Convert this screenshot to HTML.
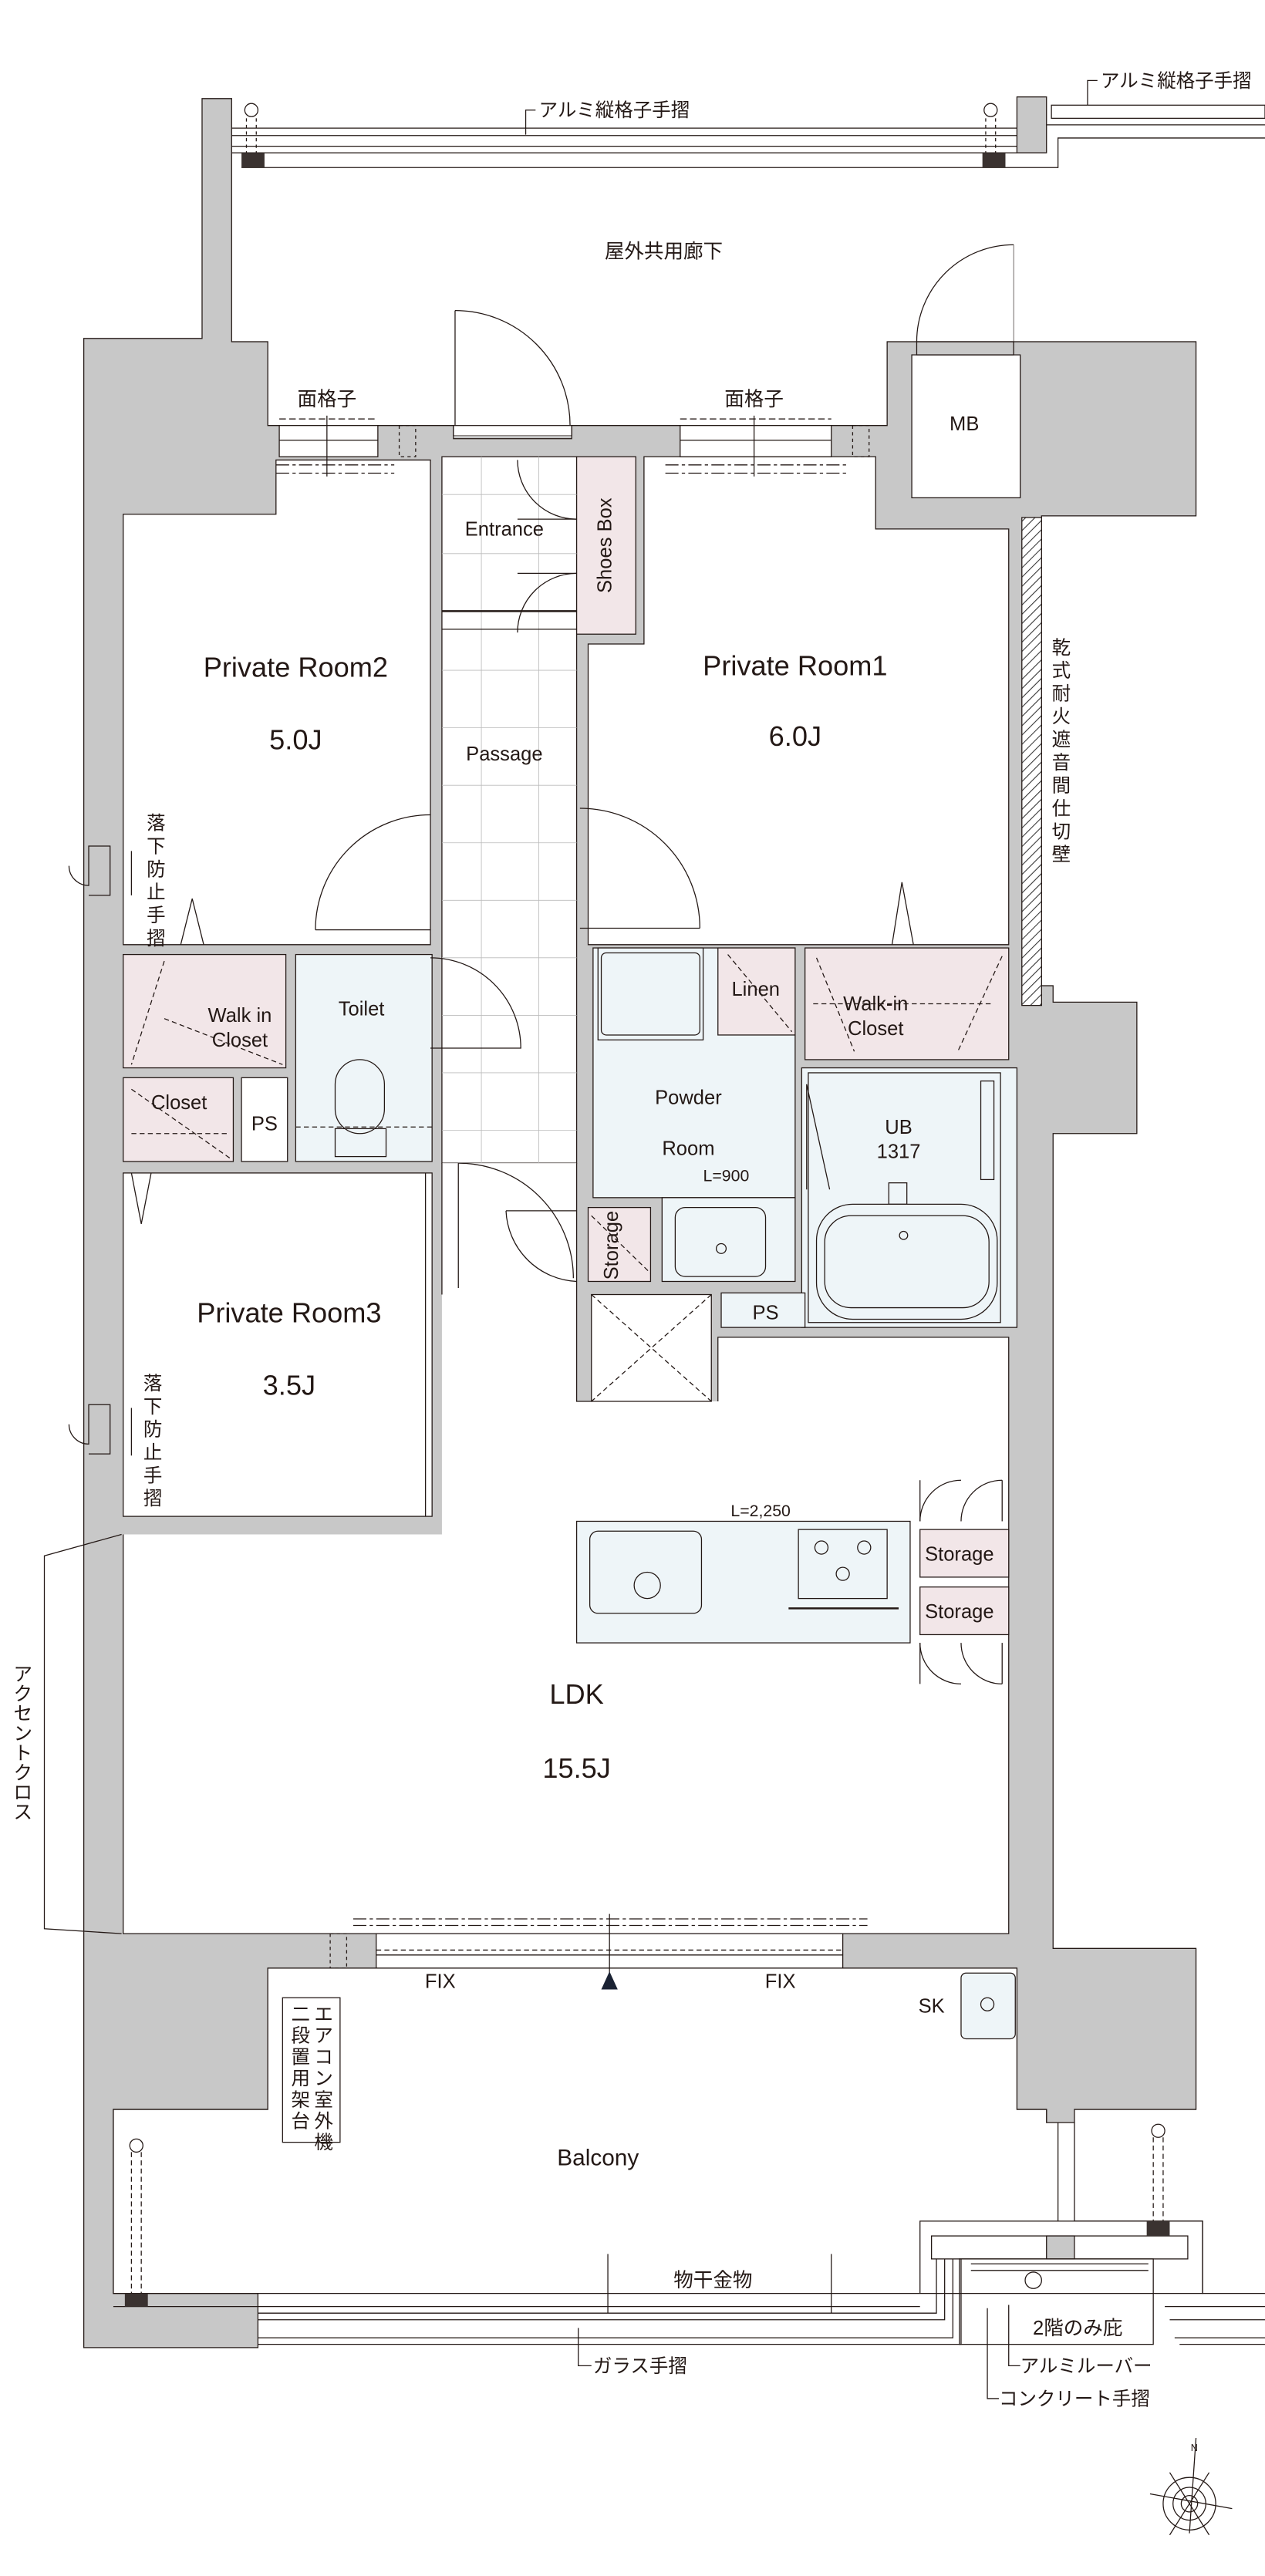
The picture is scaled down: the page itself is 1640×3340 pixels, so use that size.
<!DOCTYPE html>
<html><head><meta charset="utf-8"><style>
html,body{margin:0;padding:0;background:#fff}
svg{display:block}
text{font-family:"Liberation Sans","Noto Sans CJK JP",sans-serif;fill:#231815}
</style></head><body>
<svg width="1640" height="3340" viewBox="0 0 770 1568" preserveAspectRatio="none" xmlns="http://www.w3.org/2000/svg">
<defs>
<pattern id="h" width="4" height="4" patternUnits="userSpaceOnUse" patternTransform="rotate(45)"><rect width="4" height="4" fill="#fff"/><line x1="0" y1="0" x2="0" y2="4" stroke="#333" stroke-width="1"/></pattern>
</defs>
<g stroke="#231815" stroke-width="0.6" fill="none">
<line x1="141" y1="78" x2="619" y2="78"/><line x1="141" y1="82.5" x2="619" y2="82.5"/>
<line x1="141" y1="89" x2="619" y2="89"/><line x1="141" y1="93" x2="619" y2="93"/>
<polyline points="147,102 644,102 644,84 770,84"/>
<line x1="637" y1="76" x2="770" y2="76"/>
<rect x="640" y="64" width="130" height="8"/>
<circle cx="153" cy="67" r="4"/><circle cx="603" cy="67" r="4"/>
<line x1="150" y1="72" x2="150" y2="93" stroke-dasharray="2,2"/><line x1="156" y1="72" x2="156" y2="93" stroke-dasharray="2,2"/>
<line x1="600" y1="72" x2="600" y2="93" stroke-dasharray="2,2"/><line x1="606" y1="72" x2="606" y2="93" stroke-dasharray="2,2"/>
<polyline points="320,82 320,67 326,67"/><polyline points="662,64 662,49 668,49"/>
</g>
<rect x="147" y="93" width="14" height="9" fill="#3a3230"/><rect x="598" y="93" width="14" height="9" fill="#3a3230"/>
<rect x="619" y="59" width="18" height="34" fill="#c8c8c8" stroke="#231815" stroke-width="0.6"/>
<text x="328" y="71" font-size="11.5">アルミ縦格子手摺</text>
<text x="670" y="53" font-size="11.5">アルミ縦格子手摺</text>
<text x="404" y="157" font-size="12" text-anchor="middle">屋外共用廊下</text>

<g fill="#c8c8c8" stroke="#231815" stroke-width="0.6">
<polygon points="51,206 123,206 123,60 141,60 141,208 163,208 163,259 276,259 276,265 348,265 348,259 540,259 540,208 728,208 728,314 634,314 634,600 641,600 641,610 692,610 692,690 641,690 641,1186 728,1186 728,1284 654,1284 654,1292 637,1292 637,1284 619,1284 619,1198 163,1198 163,1284 69,1284 69,1396 157,1396 157,1429 51,1429"/>
</g>
<rect x="622" y="315" width="12" height="297" fill="url(#h)" stroke="#231815" stroke-width="0.6"/>

<g stroke="#231815" stroke-width="0.6">
<polygon fill="#fff" points="168,280 262,280 262,575 75,575 75,313 168,313"/>
<polygon fill="#fff" points="392,278 533,278 533,322 614,322 614,575 358,575 358,392 392,392"/>
<rect fill="#fff" x="269" y="278" width="82" height="430"/>
<rect fill="#fff" x="276" y="259" width="72" height="6" stroke="none"/>
<rect fill="#f2e6e8" x="351" y="278" width="36" height="108"/>
<rect fill="#f2e6e8" x="75" y="581" width="99" height="69"/>
<rect fill="#eef5f8" x="180" y="581" width="83" height="126"/>
<rect fill="#f2e6e8" x="75" y="656" width="67" height="51"/>
<rect fill="#fff" x="147" y="656" width="28" height="51"/>
<rect fill="#fff" x="75" y="714" width="188" height="209"/>
<polygon fill="#fff" points="269,708 351,708 351,853 437,853 437,814 614,814 614,1177 75,1177 75,934 269,934 269,788" stroke="none"/>
<polyline fill="none" points="351,708 351,853 360,853"/>
<polyline fill="none" points="75,934 75,1177 614,1177 614,814 437,814 437,853"/>
<polyline fill="none" points="269,708 269,788"/>
<rect fill="#eef5f8" x="361" y="577" width="123" height="152"/>
<rect fill="#eef5f8" x="364" y="577" width="64" height="56"/>
<rect fill="#f2e6e8" x="437" y="577" width="47" height="53"/>
<rect fill="#f2e6e8" x="490" y="577" width="124" height="68"/>
<rect fill="#eef5f8" x="488" y="650" width="131" height="158"/>
<rect fill="none" x="492" y="653" width="117" height="152"/>
<rect fill="#f2e6e8" x="358" y="735" width="38" height="45"/>
<rect fill="#eef5f8" x="403" y="729" width="81" height="51"/>
<rect fill="#eef5f8" x="439" y="787" width="51" height="21"/>
<rect fill="#fff" x="360" y="788" width="73" height="65"/>
<rect fill="#eef5f8" x="351" y="926" width="203" height="74"/>
<rect fill="#f2e6e8" x="560" y="931" width="54" height="29"/>
<rect fill="#f2e6e8" x="560" y="966" width="54" height="29"/>
<rect fill="#fff" x="555" y="216" width="66" height="87"/>
<rect fill="#fff" x="170" y="259" width="60" height="19"/>
<rect fill="#fff" x="414" y="259" width="92" height="19"/>
<rect fill="#fff" x="229" y="1177" width="284" height="21"/>
<polygon fill="#fff" points="163,1198 619,1198 619,1284 637,1284 637,1292 654,1292 654,1352 732,1352 732,1396 69,1396 69,1284 163,1284"/>
</g>
<g stroke="#bbb" stroke-width="0.4">
<line x1="293" y1="278" x2="293" y2="708"/><line x1="328" y1="278" x2="328" y2="708"/>
<line x1="269" y1="301" x2="351" y2="301"/><line x1="269" y1="337" x2="351" y2="337"/>
<line x1="269" y1="408" x2="351" y2="408"/><line x1="269" y1="443" x2="351" y2="443"/><line x1="269" y1="478" x2="351" y2="478"/>
<line x1="269" y1="513" x2="351" y2="513"/><line x1="269" y1="548" x2="351" y2="548"/><line x1="269" y1="583" x2="351" y2="583"/>
<line x1="269" y1="618" x2="351" y2="618"/><line x1="269" y1="653" x2="351" y2="653"/><line x1="269" y1="688" x2="351" y2="688"/>
</g>
<line x1="269" y1="372" x2="351" y2="372" stroke="#231815" stroke-width="1.2"/>
<line x1="269" y1="383" x2="351" y2="383" stroke="#231815" stroke-width="0.6"/>

<g stroke="#231815" stroke-width="0.6" fill="none">
<line x1="277" y1="189" x2="277" y2="259"/><path d="M277,189 A70,70 0 0 1 347,259"/>
<line x1="617" y1="149" x2="617" y2="208" stroke-width="0.3"/><path d="M617,149 A59,59 0 0 0 558,208"/>
<rect x="558" y="208" width="59" height="8"/>
<rect x="276" y="259" width="72" height="8"/>
<line x1="192" y1="566" x2="262" y2="566"/><path d="M192,566 A70,70 0 0 1 262,496"/>
<line x1="353" y1="565" x2="426" y2="565"/><path d="M426,565 A73,73 0 0 0 353,492"/>
<path d="M315,280 A36,36 0 0 0 351,316"/><line x1="315" y1="316" x2="351" y2="316"/>
<path d="M315,385 A36,36 0 0 1 351,349"/><line x1="315" y1="349" x2="351" y2="349"/>
<line x1="279" y1="708" x2="279" y2="784"/><path d="M279,708 A70,70 0 0 1 349,778" />
<path d="M308,737 A45,45 0 0 0 351,780"/><line x1="308" y1="737" x2="351" y2="737"/>
<path d="M262,583 A55,55 0 0 1 317,638 L262,638"/>
<line x1="170" y1="255" x2="230" y2="255" stroke-dasharray="4,2"/><line x1="414" y1="255" x2="506" y2="255" stroke-dasharray="4,2"/>
<line x1="170" y1="268" x2="230" y2="268"/><line x1="414" y1="268" x2="506" y2="268"/>
<line x1="168" y1="283" x2="240" y2="283" stroke-dasharray="8,2,2,2"/><line x1="168" y1="288" x2="240" y2="288" stroke-dasharray="8,2,2,2"/>
<line x1="405" y1="283" x2="515" y2="283" stroke-dasharray="8,2,2,2"/><line x1="405" y1="288" x2="515" y2="288" stroke-dasharray="8,2,2,2"/>
<line x1="199" y1="253" x2="199" y2="290"/><line x1="459" y1="253" x2="459" y2="290"/>
<rect x="243" y="259" width="10" height="19" stroke-dasharray="2,2"/><rect x="519" y="259" width="10" height="19" stroke-dasharray="2,2"/>
<rect x="201" y="1177" width="10" height="21" stroke-dasharray="2,2"/>
<line x1="215" y1="1168" x2="528" y2="1168" stroke-dasharray="8,2,2,2"/><line x1="215" y1="1172" x2="528" y2="1172" stroke-dasharray="8,2,2,2"/>
<line x1="229" y1="1187" x2="513" y2="1187" stroke-dasharray="3,2"/><line x1="229" y1="1190" x2="513" y2="1190"/>
<line x1="371" y1="1165" x2="371" y2="1201"/>
<polyline points="74,934 27,947 27,1174 74,1177"/>
<path d="M42,527 A12,12 0 0 0 54,539 L54,515 L67,515 L67,545 L54,545"/>
<path d="M42,867 A12,12 0 0 0 54,879 L54,855 L67,855 L67,885 L54,885"/>
<line x1="80" y1="518" x2="80" y2="545"/><line x1="80" y1="857" x2="80" y2="886"/>
<path d="M100,585 L80,648 M100,620 L172,648 M80,663 L140,705 M80,690 L140,690" stroke-dasharray="3,2"/>
<path d="M443,581 L482,628 M497,583 L520,640 M610,582 L583,640 M495,611 L605,611" stroke-dasharray="3,2"/>
<line x1="360" y1="788" x2="433" y2="853" stroke-dasharray="3,2"/><line x1="433" y1="788" x2="360" y2="853" stroke-dasharray="3,2"/>
<line x1="360" y1="740" x2="396" y2="775" stroke-dasharray="3,2"/>
<path d="M110,575 L117,547 L124,575"/><path d="M543,575 L549,537 L556,575"/>
<path d="M80,714 L86,745 L92,714"/>
<line x1="259" y1="714" x2="259" y2="923"/>
<rect x="204" y="645" width="30" height="45" rx="15"/><rect x="204" y="687" width="31" height="17"/>
<line x1="180" y1="686" x2="263" y2="686" stroke-dasharray="3,2"/>
<rect x="411" y="735" width="55" height="42" rx="6"/><circle cx="439" cy="760" r="3"/>
<rect x="366" y="580" width="60" height="50" rx="3"/>
<line x1="491" y1="660" x2="505" y2="724"/><line x1="491" y1="660" x2="491" y2="724"/>
<rect x="497" y="733" width="110" height="70" rx="22"/><rect x="502" y="740" width="100" height="56" rx="16"/>
<rect x="541" y="720" width="11" height="13"/><circle cx="550" cy="752" r="2.5"/>
<rect x="597" y="658" width="8" height="60"/>
<rect x="359" y="932" width="68" height="50" rx="5"/><circle cx="394" cy="965" r="8"/>
<rect x="486" y="931" width="54" height="42"/>
<circle cx="500" cy="942" r="4"/><circle cx="526" cy="942" r="4"/><circle cx="513" cy="958" r="4"/>
<line x1="480" y1="979" x2="547" y2="979" stroke-width="1.2"/>
<path d="M560,926 A25,25 0 0 1 585,901 M585,926 A25,25 0 0 1 610,901 M560,1000 A25,25 0 0 0 585,1025 M585,1000 A25,25 0 0 0 610,1025"/>
<line x1="560" y1="901" x2="560" y2="926"/><line x1="610" y1="901" x2="610" y2="926"/>
<line x1="560" y1="1000" x2="560" y2="1025"/><line x1="610" y1="1000" x2="610" y2="1025"/>
<rect x="585" y="1201" width="33" height="40" rx="3" fill="#eef5f8"/><circle cx="601" cy="1220" r="4"/>
<circle cx="83" cy="1306" r="4"/><circle cx="705" cy="1297" r="4"/>
<line x1="80" y1="1310" x2="80" y2="1396" stroke-dasharray="3,2"/><line x1="86" y1="1310" x2="86" y2="1396" stroke-dasharray="3,2"/>
<line x1="702" y1="1301" x2="702" y2="1352" stroke-dasharray="3,2"/><line x1="708" y1="1301" x2="708" y2="1352" stroke-dasharray="3,2"/>
<line x1="644" y1="1292" x2="644" y2="1352"/>
<rect x="172" y="1216" width="35" height="88" fill="#fff"/>
<line x1="69" y1="1404" x2="560" y2="1404"/>
<polyline points="157,1408 570,1408 570,1375"/><polyline points="157,1412 575,1412 575,1375"/>
<polyline points="157,1423 580,1423 580,1375"/><polyline points="157,1427 585,1427 585,1375"/>
<polyline points="560,1396 560,1352 732,1352 732,1396 770,1396"/>
<rect x="567" y="1361" width="156" height="14" fill="#fff"/>
<rect x="637" y="1361" width="17" height="14" fill="#c8c8c8"/>
<line x1="591" y1="1378" x2="699" y2="1378"/><line x1="591" y1="1382" x2="699" y2="1382"/>
<circle cx="629" cy="1388" r="5"/>
<rect x="584" y="1375" width="118" height="52"/>
<line x1="709" y1="1404" x2="770" y2="1404"/><line x1="712" y1="1412" x2="770" y2="1412"/><line x1="715" y1="1423" x2="770" y2="1423"/><line x1="718" y1="1427" x2="770" y2="1427"/>
<line x1="370" y1="1372" x2="370" y2="1408"/><line x1="506" y1="1372" x2="506" y2="1408"/>
<polyline points="352,1417 352,1440 360,1440"/><polyline points="614,1403 614,1440 621,1440"/><polyline points="601,1405 601,1460 608,1460"/>
<circle cx="724" cy="1524" r="16"/><circle cx="724" cy="1524" r="10"/><circle cx="724" cy="1524" r="5"/>
<path d="M728,1484 L724,1542 M700,1518 L750,1527 M712,1505 L736,1543 M736,1505 L712,1543"/>
</g>
<rect x="76" y="1396" width="14" height="8" fill="#3a3230"/><rect x="698" y="1352" width="14" height="9" fill="#3a3230"/>
<polygon points="366,1211 371,1200 376,1211" fill="#1a2233"/>

<text x="199" y="247" font-size="12" text-anchor="middle">面格子</text>
<text x="459" y="247" font-size="12" text-anchor="middle">面格子</text>
<text x="587" y="262" font-size="12" text-anchor="middle">MB</text>
<text x="307" y="326" font-size="12" text-anchor="middle">Entrance</text>
<text x="0" y="0" font-size="12" text-anchor="middle" transform="translate(372,332) rotate(-90)">Shoes Box</text>
<text x="307" y="463" font-size="12" text-anchor="middle">Passage</text>
<text x="180" y="412" font-size="17" text-anchor="middle">Private Room2</text>
<text x="180" y="456" font-size="17" text-anchor="middle">5.0J</text>
<text x="484" y="411" font-size="17" text-anchor="middle">Private Room1</text>
<text x="484" y="454" font-size="17" text-anchor="middle">6.0J</text>
<text x="176" y="805" font-size="17" text-anchor="middle">Private Room3</text>
<text x="176" y="849" font-size="17" text-anchor="middle">3.5J</text>
<text x="351" y="1037" font-size="17" text-anchor="middle">LDK</text>
<text x="351" y="1082" font-size="17" text-anchor="middle">15.5J</text>
<g font-size="11.5" text-anchor="middle">
<text x="646" y="398">乾</text><text x="646" y="412">式</text><text x="646" y="426">耐</text><text x="646" y="440">火</text><text x="646" y="454">遮</text><text x="646" y="468">音</text><text x="646" y="482">間</text><text x="646" y="496">仕</text><text x="646" y="510">切</text><text x="646" y="524">壁</text>
<text x="95" y="505">落</text><text x="95" y="519">下</text><text x="95" y="533">防</text><text x="95" y="547">止</text><text x="95" y="561">手</text><text x="95" y="575">摺</text>
<text x="93" y="846">落</text><text x="93" y="860">下</text><text x="93" y="874">防</text><text x="93" y="888">止</text><text x="93" y="902">手</text><text x="93" y="916">摺</text>
<text x="14" y="1023">ア</text><text x="14" y="1035">ク</text><text x="14" y="1047">セ</text><text x="14" y="1059">ン</text><text x="14" y="1071">ト</text><text x="14" y="1083">ク</text><text x="14" y="1095">ロ</text><text x="14" y="1107">ス</text>
<text x="197" y="1230">エ</text><text x="197" y="1243">ア</text><text x="197" y="1256">コ</text><text x="197" y="1269">ン</text><text x="197" y="1282">室</text><text x="197" y="1295">外</text><text x="197" y="1308">機</text>
<text x="183" y="1230">二</text><text x="183" y="1243">段</text><text x="183" y="1256">置</text><text x="183" y="1269">用</text><text x="183" y="1282">架</text><text x="183" y="1295">台</text>
</g>
<g font-size="12" text-anchor="middle">
<text x="146" y="622">Walk in</text><text x="146" y="637">Closet</text>
<text x="220" y="618">Toilet</text>
<text x="109" y="675">Closet</text>
<text x="161" y="688">PS</text>
<text x="460" y="606">Linen</text>
<text x="533" y="615">Walk-in</text><text x="533" y="630">Closet</text>
<text x="419" y="672">Powder</text><text x="419" y="703">Room</text>
<text x="547" y="690">UB</text><text x="547" y="705">1317</text>
<text x="466" y="803">PS</text>
<text x="584" y="950">Storage</text><text x="584" y="985">Storage</text>
<text x="268" y="1210">FIX</text><text x="475" y="1210">FIX</text>
<text x="567" y="1225">SK</text>
<text x="364" y="1318" font-size="14">Balcony</text>
<text x="434" y="1392">物干金物</text>
<text x="656" y="1421">2階のみ庇</text>
</g>
<text x="0" y="0" font-size="12" text-anchor="middle" transform="translate(376,758) rotate(-90)">Storage</text>
<text x="442" y="719" font-size="10" text-anchor="middle">L=900</text>
<text x="463" y="923" font-size="10" text-anchor="middle">L=2,250</text>
<text x="361" y="1444" font-size="11.5">ガラス手摺</text>
<text x="621" y="1444" font-size="11.5">アルミルーバー</text>
<text x="608" y="1464" font-size="11.5">コンクリート手摺</text>
<text x="727" y="1492" font-size="6" text-anchor="middle">N</text>
</svg>
</body></html>
